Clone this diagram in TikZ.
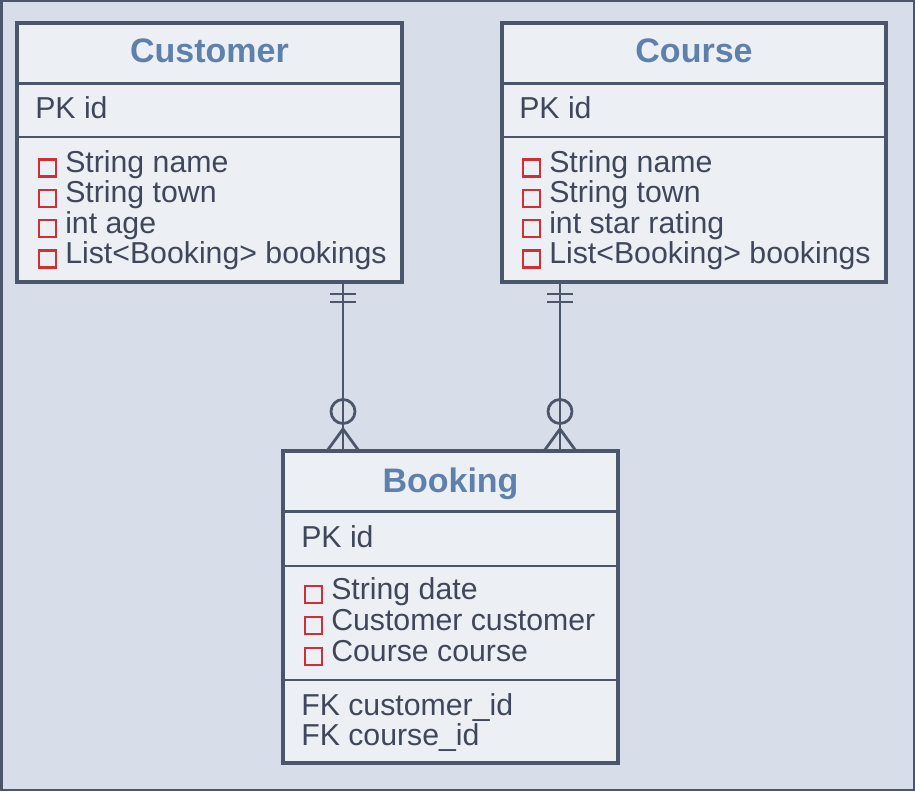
\documentclass[tikz,border=0pt]{standalone}
\usepackage{fontspec}
\setmainfont{Liberation Sans}
\usepackage{tikz}
\usetikzlibrary{calc,fit}
\definecolor{bgfill}{HTML}{D8DEE9}
\definecolor{boxfill}{HTML}{ECEFF4}
\definecolor{edge}{HTML}{4C566A}
\definecolor{titleblue}{HTML}{5E81AC}
\definecolor{ink}{HTML}{3F485A}
\definecolor{keyred}{HTML}{D12F33}

\begin{document}
\begin{tikzpicture}[x=0.75pt,y=-0.75pt,
    entity/.style={draw=edge,fill=boxfill,line width=2.4pt,inner sep=0pt,outer sep=0pt},
    sep/.style={draw=edge,line width=2pt},
    title/.style={anchor=base,inner sep=0pt,text=titleblue,font=\fontsize{25.5}{30}\selectfont\bfseries},
    attr/.style={anchor=base west,inner sep=0pt,text=ink,font=\fontsize{22.7}{27}\selectfont},
    key/.style={draw=keyred,line width=1.8pt},
    link/.style={draw=edge,line width=2.1pt}]
  \useasboundingbox (0,0) rectangle (915,792);
  \draw[edge,fill=bgfill,line width=1.5pt] (1.5,1.5) rectangle (913.5,790);

  % entities
  \node[entity,fit={(17,23) (402,282)}] (cust) {};
  \node[entity,fit={(502,23) (886,282)}] (course) {};
  \node[entity,fit={(283,451) (618,763)}] (book) {};
  \foreach \e/\y in {cust/83.5,cust/137,course/83.5,course/137,book/511.5,book/566,book/680}
    \draw[sep] (\e.west |- 0,\y) -- (\e.east |- 0,\y);

  \node[title] (cust-t) at (cust.north |- 0,63) {Customer};
  \node[title] (course-t) at (course.north |- 0,63) {Course};
  \node[title] (book-t) at (book.north |- 0,492) {Booking};

  \node[attr] (cust-pk) at (35,119) {PK id};
  \node[attr] (course-pk) at (519,119) {PK id};
  \node[attr] (book-pk) at (301,547) {PK id};

  \foreach \t [count=\i] in {String name,String town,int age,List<Booking> bookings}
    \node[attr] (cust-a\i) at (65,142.2+30.3*\i) {\t};
  \foreach \t [count=\i] in {String name,String town,int star rating,List<Booking> bookings}
    \node[attr] (course-a\i) at (549,142.2+30.3*\i) {\t};
  \foreach \t [count=\i] in {String date,Customer customer,Course course}
    \node[attr] (book-a\i) at (331,568+31*\i) {\t};
  \foreach \n in {cust-a1,cust-a2,cust-a3,cust-a4,course-a1,course-a2,course-a3,course-a4,book-a1,book-a2,book-a3}
    \draw[key] ($(\n.base west)+(-26,-13)$) rectangle ($(\n.base west)+(-9,4)$);

  \node[attr] (book-fk1) at (301,715) {FK customer\_id};
  \node[attr] (book-fk2) at (301,745) {FK course\_id};

  % relationships
  \coordinate (cu-end) at ($(cust.south east)+(-59,0)$);
  \coordinate (bk-cu) at ($(book.north west)+(60,0)$);
  \coordinate (co-end) at ($(course.south west)+(58,0)$);
  \coordinate (bk-co) at ($(book.north east)+(-58,0)$);
  \foreach \a/\b in {cu-end/bk-cu,co-end/bk-co}{
    \draw[link] (\a) -- (\b);
    \foreach \d in {12,20}
      \draw[link] ($(\a)+(-13,\d)$) -- ($(\a)+(13,\d)$);
    \draw[link] ($(\b)+(0,-39.5)$) circle[radius=9pt];
    \draw[link] ($(\b)+(-16,0)$) -- ($(\b)+(0,-22)$) -- ($(\b)+(16,0)$);
  }
\end{tikzpicture}
\end{document}
